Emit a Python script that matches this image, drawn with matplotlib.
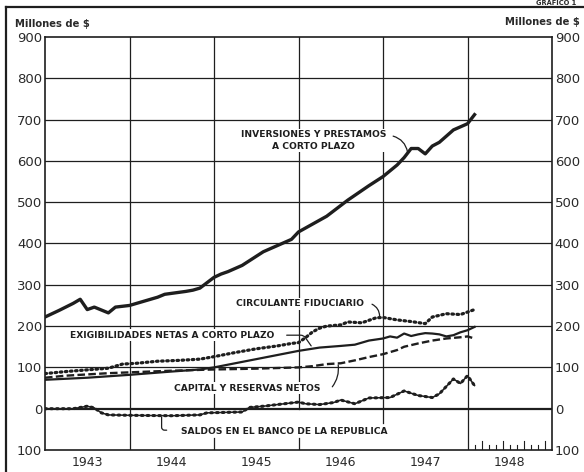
import matplotlib
matplotlib.use("Agg")
import matplotlib.pyplot as plt
import numpy as np

# ---------------- data (month index: 0 = Jan 1943) ----------------
inv_m = [0, 2, 4, 5, 6, 7, 9, 10, 12, 13, 16, 17, 20, 21, 22, 23, 24, 25, 26, 28, 31, 33, 35, 36, 38, 40, 43, 46, 48, 50, 51, 52, 53, 54, 55, 56, 57, 58, 60, 61]
inv_v = [222, 238, 255, 265, 240, 246, 232, 246, 250, 255, 270, 277, 284, 287, 292, 305, 318, 326, 332, 347, 380, 395, 410, 428, 447, 466, 505, 540, 562, 590, 608, 630, 630, 617, 636, 645, 660, 675, 690, 712]

circ_m = [0, 3, 6, 9, 11, 13, 16, 19, 22, 24, 27, 30, 33, 35, 36, 37, 38, 39, 40, 42, 43, 45, 47, 48, 50, 52, 54, 55, 57, 58, 59, 60, 61]
circ_v = [85, 90, 94, 98, 108, 110, 115, 117, 120, 126, 136, 145, 152, 158, 160, 172, 186, 195, 200, 203, 210, 208, 220, 221, 215, 211, 206, 222, 230, 229, 228, 234, 240]

exig_m = [0, 6, 12, 18, 22, 24, 27, 30, 33, 36, 39, 42, 44, 46, 48, 49, 50, 51, 52, 53, 54, 55, 56, 57, 58, 59, 60, 61]
exig_v = [70, 75, 82, 90, 95, 100, 110, 120, 130, 140, 148, 152, 155, 165, 170, 175, 172, 182, 176, 180, 183, 182, 180, 175, 178, 185, 190, 198]

cap_m = [0, 3, 6, 9, 12, 18, 24, 30, 36, 38, 40, 42, 44, 46, 48, 50, 51, 53, 55, 57, 59, 60, 61]
cap_v = [75, 80, 83, 86, 88, 92, 95, 97, 100, 103, 108, 110, 117, 125, 132, 142, 150, 158, 165, 170, 173, 175, 170]

sald_m = [0, 4, 6, 7, 8, 9, 12, 18, 22, 23, 28, 29, 31, 33, 36, 37, 39, 41, 42, 44, 46, 49, 51, 53, 55, 56, 58, 59, 60, 61]
sald_v = [0, 0, 6, 2, -10, -15, -16, -17, -15, -10, -8, 3, 6, 10, 16, 12, 10, 15, 21, 12, 26, 27, 43, 32, 27, 36, 72, 61, 80, 56]

years = [1943, 1944, 1945, 1946, 1947, 1948]
y_ticks = [-100, 0, 100, 200, 300, 400, 500, 600, 700, 800, 900]
y_labels = ["100", "0", "100", "200", "300", "400", "500", "600", "700", "800", "900"]

lab_inv = "INVERSIONES Y PRESTAMOS\nA CORTO PLAZO"
lab_circ = "CIRCULANTE FIDUCIARIO"
lab_exig = "EXIGIBILIDADES NETAS A CORTO PLAZO"
lab_cap = "CAPITAL Y RESERVAS NETOS"
lab_sald = "SALDOS EN EL BANCO DE LA REPUBLICA"

# ---------------- figure ----------------
INK = "#1e1e1e"
fig = plt.figure(figsize=(5.84, 4.72), dpi=100, facecolor="white")
ax = fig.add_axes([45 / 584, 1 - 450 / 472, (552 - 45) / 584, (450 - 37) / 472])
ax.set_xlim(1943, 1949)
ax.set_ylim(-100, 900)


def tx(m):
    return 1943 + np.asarray(m) / 12.0


# grid
for v in range(100, 900, 100):
    ax.axhline(v, color=INK, lw=0.9, zorder=1)
ax.axhline(0, color=INK, lw=1.6, zorder=1)
for yr in [1944, 1948]:
    ax.axvline(yr, color=INK, lw=0.9, zorder=1)
for yr in [1945, 1946]:
    ax.plot([yr, yr], [0, 900], color=INK, lw=0.9, zorder=1)
    ax.plot([yr, yr], [-100, -72], color=INK, lw=0.9, zorder=1)
ax.plot([1947, 1947], [-35, 900], color=INK, lw=0.9, zorder=1)
# monthly minor ticks in 1948
for k in range(1, 12):
    h = 22 if k % 3 == 2 else 12
    ax.plot([1948 + k / 12] * 2, [-100, -100 + h], color=INK, lw=0.8, zorder=1)

# series
ax.plot(tx(inv_m), inv_v, color=INK, lw=2.4, solid_joinstyle="round", zorder=4)
ax.plot(tx(exig_m), exig_v, color=INK, lw=1.6, zorder=3)
ax.plot(tx(circ_m), circ_v, color=INK, lw=2.3, linestyle=(0, (0.5, 1.1)),
        dash_capstyle="round", zorder=3)
ax.plot(tx(cap_m), cap_v, color=INK, lw=1.7, linestyle=(0, (3.2, 1.4)), zorder=3)
ax.plot(tx(sald_m), sald_v, color=INK, lw=1.1, zorder=3)
ax.plot(tx(sald_m), sald_v, color=INK, lw=2.2, linestyle=(0, (0.5, 1.4)),
        dash_capstyle="round", zorder=3)

# labels
lab_kw = dict(fontsize=6.6, fontweight="bold", color=INK, ha="center", va="center",
              zorder=5, bbox=dict(fc="white", ec="none", pad=1.0))
ax.text(1946.18, 649, lab_inv, linespacing=1.35, multialignment="center", **lab_kw)
ax.text(1946.02, 254, lab_circ, **lab_kw)
ax.text(1944.51, 178, lab_exig, **lab_kw)
ax.text(1945.39, 50, lab_cap, **lab_kw)
ax.text(1945.83, -54, lab_sald, **lab_kw)

lk = dict(arrowstyle="-", lw=0.9, color=INK, shrinkA=0, shrinkB=0)
ax.annotate("", xy=(1947.29, 622), xytext=(1947.12, 660),
            arrowprops=dict(connectionstyle="arc3,rad=-0.3", **lk), zorder=5)
ax.annotate("", xy=(1946.96, 224), xytext=(1946.87, 253),
            arrowprops=dict(connectionstyle="arc3,rad=-0.3", **lk), zorder=5)
ax.annotate("", xy=(1946.15, 152), xytext=(1945.86, 178),
            arrowprops=dict(connectionstyle="angle,angleA=0,angleB=125,rad=3", **lk), zorder=5)
ax.annotate("", xy=(1946.47, 106), xytext=(1946.40, 53),
            arrowprops=dict(connectionstyle="arc3,rad=0.2", **lk), zorder=5)
ax.annotate("", xy=(1944.38, -20), xytext=(1944.44, -52),
            arrowprops=dict(connectionstyle="angle,angleA=180,angleB=-90,rad=3", **lk), zorder=5)

# axes styling
for s in ax.spines.values():
    s.set_color(INK)
    s.set_linewidth(1.2)
ax.set_yticks(y_ticks)
ax.set_yticklabels(y_labels)
ax.tick_params(axis="y", which="both", length=0, pad=2, labelsize=9.5,
               labelcolor="#2a2a2a", labelright=True, labelleft=True)
ax.set_xticks([y + 0.5 for y in years])
ax.set_xticklabels([str(y) for y in years])
ax.tick_params(axis="x", length=0, pad=4, labelsize=9, labelcolor="#2a2a2a")

fig.text(15 / 584, 1 - 24 / 472, "Millones de $", fontsize=7.2, fontweight="bold",
         color="#2a2a2a", ha="left", va="center")
fig.text(580 / 584, 1 - 22 / 472, "Millones de $", fontsize=7.2, fontweight="bold",
         color="#2a2a2a", ha="right", va="center")
fig.text(576 / 584, 1 - 6 / 472, "GRAFICO 1", fontsize=4.8, fontweight="bold",
         color="#2a2a2a", ha="right", va="bottom")

# outer frame of the page
fig.add_artist(plt.Line2D([6 / 584, 6 / 584], [0, 1 - 7 / 472], transform=fig.transFigure,
                          color=INK, lw=1.6))
fig.add_artist(plt.Line2D([6 / 584, 1], [1 - 7 / 472, 1 - 7 / 472], transform=fig.transFigure,
                          color=INK, lw=1.6))

fig.savefig("out.png", dpi=100, facecolor="white")
